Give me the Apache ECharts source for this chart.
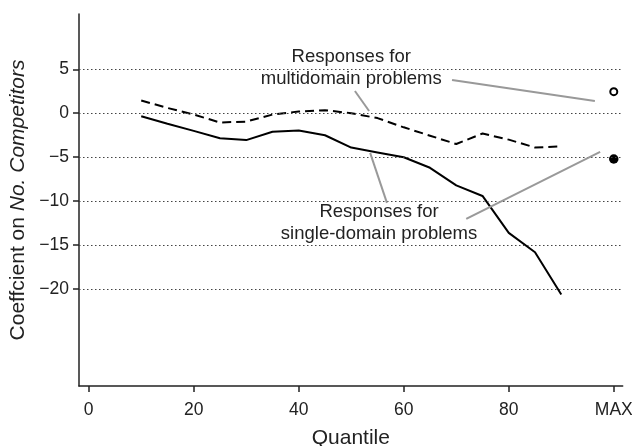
<!DOCTYPE html>
<html>
<head>
<meta charset="utf-8">
<script src="https://cdn.jsdelivr.net/npm/echarts@6/dist/echarts.min.js"></script>
<style>html,body{margin:0;padding:0;background:#fff}#c{width:632px;height:446px}</style>
</head>
<body>
<div id="c"></div>
<script>
// Data
var quantiles = [10,15,20,25,30,35,40,45,50,55,60,65,70,75,80,85,90];
var singleDomain = [-0.35,-1.2,-2.0,-2.85,-3.05,-2.1,-1.95,-2.5,-3.9,-4.45,-5.0,-6.2,-8.2,-9.4,-13.6,-15.8,-20.6];
var multiDomain = [1.45,0.6,-0.15,-1.05,-0.95,-0.15,0.2,0.35,0.0,-0.55,-1.6,-2.55,-3.5,-2.3,-3.0,-3.9,-3.75];
var maxQuantile = 100;
var singleAtMax = -5.2;
var multiAtMax = 2.45;
var xTicks = [0,20,40,60,80,100];
var xTickLabels = ['0','20','40','60','80','MAX'];
var yTicks = [-20,-15,-10,-5,0,5];
var yTickLabels = ['\u221220','\u221215','\u221210','\u22125','0','5'];
var annotationTexts = [
  {lines:['Responses for','multidomain problems'], at:[50.0, 5.15]},
  {lines:['Responses for','single-domain problems'], at:[55.3, -12.45]}
];
var leaders = [
  [[50.7,2.53],[53.4,0.26]],
  [[69.2,3.77],[96.4,1.4]],
  [[53.6,-4.51],[56.8,-10.19]],
  [[71.9,-12.0],[97.4,-4.4]]
];

function pairs(xs, ys){ return xs.map(function(x,i){return [x, ys[i]];}); }

var FONT = '"Liberation Sans", Arial, Helvetica, sans-serif';
var chart = echarts.init(document.getElementById('c'), null, {renderer:'canvas'});
var option = {
  animation:false,
  backgroundColor:'#fff',
  textStyle:{fontFamily:FONT, color:'#222'},
  grid:{left:79, right:9.3, top:14, bottom:60, containLabel:false, outerBoundsMode:'none'},
  xAxis:{
    type:'value', min:-1.85, max:101.7,
    name:'Quantile', nameLocation:'middle', nameGap:42,
    nameTextStyle:{fontSize:21, color:'#222', fontFamily:FONT},
    axisLine:{show:true, onZero:false, lineStyle:{color:'#222', width:1.5}},
    axisTick:{show:true, length:6, lineStyle:{color:'#222', width:1.5}, customValues:xTicks},
    axisLabel:{customValues:xTicks, fontSize:17.5, color:'#222', margin:15, fontFamily:FONT,
      formatter:function(v){ var i = xTicks.indexOf(v); return i>=0 ? xTickLabels[i] : ''; }},
    splitLine:{show:false}
  },
  yAxis:{
    type:'value', min:-31, max:11.28,
    name:'Coeffcient on {i|No. Competitors}', nameLocation:'middle', nameGap:45, nameRotate:90,
    nameTextStyle:{fontSize:21, color:'#222', fontFamily:FONT, rich:{i:{fontStyle:'italic', fontSize:21, color:'#222', fontFamily:FONT}}},
    axisLine:{show:true, onZero:false, lineStyle:{color:'#222', width:1.5}},
    axisTick:{show:true, length:6, lineStyle:{color:'#222', width:1.5}, customValues:yTicks},
    axisLabel:{customValues:yTicks, fontSize:17.5, color:'#222', margin:10, fontFamily:FONT,
      formatter:function(v){ var i = yTicks.indexOf(v); return i>=0 ? yTickLabels[i] : ''; }},
    splitLine:{show:false}
  },
  series:[
    {
      type:'line', name:'single', data:pairs(quantiles, singleDomain), showSymbol:false, symbol:'none',
      lineStyle:{color:'#000', width:2}, z:3,
      markLine:{silent:true, symbol:'none', label:{show:false},
        lineStyle:{color:'#444', type:[1.5,2.5], width:1.2},
        data: yTicks.map(function(v){return {yAxis:v};})}
    },
    {
      type:'line', name:'multi', data:pairs(quantiles, multiDomain), showSymbol:false, symbol:'none',
      lineStyle:{color:'#000', width:2, type:[9,5]}, z:3
    },
    {
      type:'scatter', data:[[maxQuantile, multiAtMax]], symbol:'circle', symbolSize:7,
      itemStyle:{color:'#fff', borderColor:'#000', borderWidth:2, opacity:1}, z:4
    },
    {
      type:'scatter', data:[[maxQuantile, singleAtMax]], symbol:'circle', symbolSize:9.5,
      itemStyle:{color:'#000', opacity:1}, z:4
    }
  ]
};
chart.setOption(option);

var g = [];
leaders.forEach(function(l){
  var a = chart.convertToPixel({gridIndex:0}, l[0]);
  var b = chart.convertToPixel({gridIndex:0}, l[1]);
  g.push({type:'line', shape:{x1:a[0],y1:a[1],x2:b[0],y2:b[1]}, style:{stroke:'#999', lineWidth:2}, z:10});
});
annotationTexts.forEach(function(t){
  var p = chart.convertToPixel({gridIndex:0}, t.at);
  g.push({type:'text', x:p[0], y:p[1], style:{text:t.lines.join('\n'), fontSize:18.5, lineHeight:22,
    fontFamily:FONT, fill:'#222', align:'center', verticalAlign:'middle'}, z:11});
});
chart.setOption({graphic:g});
</script>
</body>
</html>
